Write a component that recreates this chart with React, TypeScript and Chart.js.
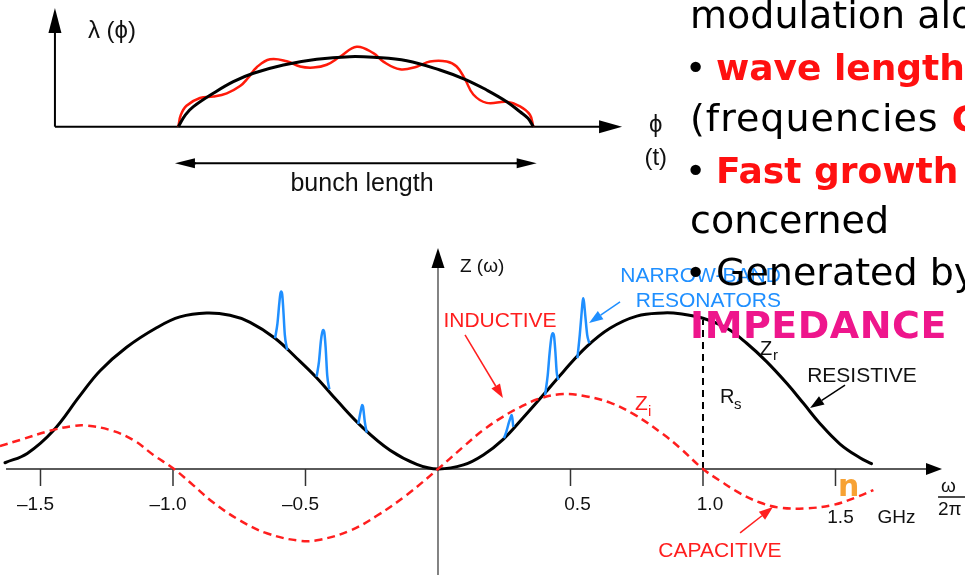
import { useEffect, useRef } from "react";
import { Chart, registerables } from "chart.js";

Chart.register(...registerables);

// ---------- main impedance plot: Z(omega) vs omega/2pi (GHz) ----------
const zrOmega = [-1.634, -1.55, -1.452, -1.351, -1.275, -1.175, -1.062, -0.974, -0.873, -0.785, -0.709, -0.615, -0.533, -0.458, -0.382, -0.282, -0.181, -0.08, 0, 0.096, 0.171, 0.246, 0.322, 0.397, 0.473, 0.561, 0.649, 0.75, 0.85, 0.913, 1.0, 1.09, 1.165, 1.24, 1.316, 1.379, 1.442, 1.517, 1.592, 1.636];
const zrValue = [0.04, 0.1, 0.245, 0.47, 0.63, 0.78, 0.905, 0.975, 1.0, 0.985, 0.94, 0.838, 0.71, 0.585, 0.44, 0.262, 0.12, 0.03, 0, 0.026, 0.09, 0.19, 0.33, 0.474, 0.624, 0.784, 0.902, 0.98, 1.0, 0.995, 0.966, 0.902, 0.806, 0.688, 0.549, 0.421, 0.29, 0.16, 0.072, 0.034];

const ziOmega = [-1.653, -1.577, -1.464, -1.376, -1.326, -1.238, -1.15, -1.074, -0.996, -0.923, -0.848, -0.747, -0.646, -0.521, -0.445, -0.332, -0.231, -0.118, 0, 0.096, 0.171, 0.246, 0.309, 0.385, 0.473, 0.561, 0.649, 0.74, 0.85, 0.913, 1.0, 1.064, 1.14, 1.215, 1.29, 1.391, 1.492, 1.58, 1.643];
const ziValue = [0.147, 0.186, 0.245, 0.276, 0.278, 0.25, 0.186, 0.09, 0, -0.105, -0.215, -0.33, -0.412, -0.46, -0.453, -0.395, -0.3, -0.166, 0, 0.143, 0.25, 0.336, 0.395, 0.452, 0.48, 0.465, 0.425, 0.35, 0.222, 0.135, 0, -0.075, -0.156, -0.215, -0.248, -0.252, -0.23, -0.18, -0.135];

// narrow-band resonators
const res1Omega = [-0.615, -0.606, -0.599, -0.595, -0.592, -0.588, -0.584, -0.578, -0.569];
const res1Value = [0.838, 0.93, 1.06, 1.12, 1.137, 1.12, 1.03, 0.86, 0.763];
const res2Omega = [-0.458, -0.449, -0.442, -0.437, -0.433, -0.429, -0.424, -0.418, -0.41];
const res2Value = [0.592, 0.69, 0.82, 0.875, 0.891, 0.875, 0.78, 0.6, 0.511];
const res3Omega = [-0.301, -0.293, -0.288, -0.286, -0.283, -0.276, -0.269];
const res3Value = [0.288, 0.36, 0.4, 0.41, 0.4, 0.3, 0.233];
const res4Omega = [0.249, 0.258, 0.268, 0.275, 0.278, 0.281, 0.284];
const res4Value = [0.197, 0.24, 0.3, 0.335, 0.346, 0.32, 0.27];
const res5Omega = [0.404, 0.414, 0.421, 0.428, 0.433, 0.438, 0.443, 0.448, 0.454];
const res5Value = [0.474, 0.6, 0.74, 0.845, 0.87, 0.85, 0.75, 0.62, 0.571];
const res6Omega = [0.526, 0.535, 0.541, 0.545, 0.548, 0.551, 0.556, 0.563, 0.571];
const res6Value = [0.71, 0.86, 0.98, 1.06, 1.094, 1.07, 0.98, 0.86, 0.806];

const tickValues = [-1.5, -1.0, -0.5, 0.5, 1.0, 1.5];
const tickLabels = ["\u20131.5", "\u20131.0", "\u20130.5", "0.5", "1.0", "1.5"];
const rsOmega = 1.0;
const rsValue = 0.955;

// ---------- bunch profile: lambda(phi) ----------
const bunchPhi = [-1.0, -0.96, -0.915, -0.803, -0.69, -0.577, -0.408, -0.22, -0.033, 0.099, 0.287, 0.474, 0.625, 0.737, 0.85, 0.925, 0.97, 1.0];
const bunchLambda = [0, 0.17, 0.286, 0.477, 0.643, 0.763, 0.881, 0.963, 1.0, 0.991, 0.943, 0.81, 0.667, 0.524, 0.357, 0.214, 0.12, 0];

const modPhi = [-1.0, -0.986, -0.954, -0.878, -0.803, -0.727, -0.652, -0.606, -0.558, -0.483, -0.389, -0.314, -0.239, -0.164, -0.089, 0.005, 0.099, 0.155, 0.249, 0.343, 0.418, 0.512, 0.568, 0.615, 0.662, 0.737, 0.85, 0.925, 0.981, 1.0];
const modLambda = [0, 0.167, 0.3, 0.41, 0.43, 0.477, 0.58, 0.7, 0.85, 0.963, 0.935, 0.86, 0.845, 0.885, 1.0, 1.143, 1.05, 0.93, 0.82, 0.857, 0.93, 0.93, 0.86, 0.68, 0.46, 0.34, 0.355, 0.29, 0.17, 0];

// ---------- slide text ----------
const slideLines = [
  [{ t: "modulation along the bunch", c: "#000", b: false }],
  [{ t: "\u2022", c: "#000", b: false, bullet: true }, { t: "wave length", c: "#ff1010", b: true }],
  [{ t: "(frequencies ", c: "#000", b: false }, { t: "GHz)", c: "#ff1010", b: true }],
  [{ t: "\u2022", c: "#000", b: false, bullet: true }, { t: "Fast growth", c: "#ff1010", b: true }],
  [{ t: "concerned", c: "#000", b: false }],
  [{ t: "\u2022", c: "#000", b: false, bullet: true }, { t: "Generated by", c: "#000", b: false }],
  [{ t: "IMPEDANCE", c: "#ee168c", b: true }],
];

const pts = (xs: number[], ys: number[]) => xs.map((x, i) => ({ x, y: ys[i] }));

const SANS = "'Liberation Sans', Arial, sans-serif";
const BLUE = "#1f8fff";
const RED = "#ff1e1e";

function text(ctx: CanvasRenderingContext2D, s: string, x: number, y: number, font: string, color: string, align: CanvasTextAlign = "left") {
  ctx.font = font;
  ctx.fillStyle = color;
  ctx.textAlign = align;
  ctx.textBaseline = "alphabetic";
  ctx.fillText(s, x, y);
}

function arrow(ctx: CanvasRenderingContext2D, x1: number, y1: number, x2: number, y2: number, color: string, lw: number, hl: number, hw: number) {
  const a = Math.atan2(y2 - y1, x2 - x1);
  const bx = x2 - hl * Math.cos(a);
  const by = y2 - hl * Math.sin(a);
  ctx.strokeStyle = color;
  ctx.fillStyle = color;
  ctx.lineWidth = lw;
  ctx.setLineDash([]);
  ctx.beginPath();
  ctx.moveTo(x1, y1);
  ctx.lineTo(bx, by);
  ctx.stroke();
  ctx.beginPath();
  ctx.moveTo(x2, y2);
  ctx.lineTo(bx + hw * Math.sin(a), by - hw * Math.cos(a));
  ctx.lineTo(bx - hw * Math.sin(a), by + hw * Math.cos(a));
  ctx.closePath();
  ctx.fill();
}

function line(ctx: CanvasRenderingContext2D, x1: number, y1: number, x2: number, y2: number) {
  ctx.beginPath();
  ctx.moveTo(x1, y1);
  ctx.lineTo(x2, y2);
  ctx.stroke();
}

const decor = {
  id: "decor",
  beforeDatasetsDraw(chart: any) {
    const ctx: CanvasRenderingContext2D = chart.ctx;
    const X = (v: number) => chart.scales.x.getPixelForValue(v);
    const Y = (v: number) => chart.scales.y.getPixelForValue(v);
    const X2 = (v: number) => chart.scales.x2.getPixelForValue(v);
    const Y2 = (v: number) => chart.scales.y2.getPixelForValue(v);
    ctx.save();
    ctx.lineCap = "butt";
    const y0 = Y(0);
    const x0 = X(0);
    ctx.strokeStyle = "#5a5a5a";
    ctx.lineWidth = 2;
    line(ctx, X(-1.63), y0, X(1.902) - 12, y0);
    arrow(ctx, X(1.902) - 14, y0, X(1.902), y0, "#000", 2, 16, 6);
    ctx.strokeStyle = "#5a5a5a";
    ctx.lineWidth = 1.5;
    line(ctx, x0, Y(-0.7), x0, Y(1.417) + 14);
    arrow(ctx, x0, Y(1.417) + 16, x0, Y(1.417), "#000", 1.5, 20, 6.5);
    ctx.strokeStyle = "#333";
    ctx.lineWidth = 1.5;
    tickValues.forEach((v) => line(ctx, X(v), y0, X(v), y0 + 17));
    ctx.strokeStyle = "#000";
    ctx.lineWidth = 2;
    ctx.setLineDash([7, 5]);
    line(ctx, X(rsOmega), y0, X(rsOmega), Y(rsValue));
    ctx.setLineDash([]);
    const by0 = Y2(0);
    ctx.strokeStyle = "#000";
    ctx.lineWidth = 2;
    line(ctx, X2(-1.695), by0, X2(1.5) - 20, by0);
    arrow(ctx, X2(1.5) - 22, by0, X2(1.5), by0, "#000", 2, 23, 6.5);
    line(ctx, X2(-1.695), by0, X2(-1.695), Y2(1.696) + 22);
    arrow(ctx, X2(-1.695), Y2(1.696) + 24, X2(-1.695), Y2(1.696), "#000", 2, 25, 6.5);
    ctx.restore();
  },
  afterDatasetsDraw(chart: any) {
    const ctx: CanvasRenderingContext2D = chart.ctx;
    const X = (v: number) => chart.scales.x.getPixelForValue(v);
    const Y = (v: number) => chart.scales.y.getPixelForValue(v);
    const X2 = (v: number) => chart.scales.x2.getPixelForValue(v);
    const Y2 = (v: number) => chart.scales.y2.getPixelForValue(v);
    ctx.save();
    const y0 = Y(0);
    tickValues.forEach((v, i) => {
      const last = i === tickValues.length - 1;
      const dx = v < 0 ? -5 : last ? 5 : 7;
      text(ctx, tickLabels[i], X(v) + dx, y0 + (last ? 54 : 41), `19px ${SANS}`, "#111", "center");
    });
    text(ctx, "GHz", X(1.5) + 61, y0 + 54, `19px ${SANS}`, "#111", "center");
    const fx = X(1.887);
    text(ctx, "\u03c9", fx + 3, y0 + 23, `19px ${SANS}`, "#111", "left");
    ctx.strokeStyle = "#111";
    ctx.lineWidth = 1.5;
    line(ctx, fx, y0 + 28, fx + 40, y0 + 28);
    text(ctx, "2\u03c0", fx, y0 + 46, `19px ${SANS}`, "#111", "left");
    text(ctx, "Z (\u03c9)", X(0.083), Y(1.263), `19px ${SANS}`, "#111", "left");
    text(ctx, "n", X(1.509), Y(-0.173), `bold 30px 'DejaVu Sans', sans-serif`, "#f7a234", "left");
    text(ctx, "INDUCTIVE", X(0.234), Y(0.91), `21px ${SANS}`, RED, "center");
    arrow(ctx, X(0.102), Y(0.859), X(0.245), Y(0.455), RED, 1.5, 14, 5);
    text(ctx, "NARROW-BAND", X(1.294), Y(1.199), `21px ${SANS}`, BLUE, "right");
    text(ctx, "RESONATORS", X(1.294), Y(1.038), `21px ${SANS}`, BLUE, "right");
    arrow(ctx, X(0.687), Y(1.071), X(0.57), Y(0.936), BLUE, 1.5, 14, 5);
    text(ctx, "Z", X(0.743), Y(0.378), `21px ${SANS}`, RED, "left");
    text(ctx, "i", X(0.743) + 13, Y(0.378) + 6, `15px ${SANS}`, RED, "left");
    text(ctx, "Z", X(1.215), Y(0.731), `20px ${SANS}`, "#111", "left");
    text(ctx, "r", X(1.215) + 13, Y(0.731) + 5, `15px ${SANS}`, "#111", "left");
    text(ctx, "R", X(1.064), Y(0.423), `20px ${SANS}`, "#111", "left");
    text(ctx, "s", X(1.064) + 14, Y(0.423) + 6, `15px ${SANS}`, "#111", "left");
    text(ctx, "RESISTIVE", X(1.6), Y(0.558), `21px ${SANS}`, "#111", "center");
    arrow(ctx, X(1.536), Y(0.538), X(1.404), Y(0.391), "#000", 1.5, 14, 5);
    text(ctx, "CAPACITIVE", X(1.064), Y(-0.564), `21px ${SANS}`, RED, "center");
    arrow(ctx, X(1.14), Y(-0.41), X(1.264), Y(-0.244), RED, 1.5, 14, 5);
    // bunch diagram labels
    text(ctx, "\u03bb (\u03d5)", X2(-1.509), Y2(0) - 89, `24px ${SANS}, 'DejaVu Sans'`, "#111", "left");
    text(ctx, "\u03d5", X2(1.69), Y2(0) + 5, `24px ${SANS}, 'DejaVu Sans'`, "#111", "center");
    text(ctx, "(t)", X2(1.69), Y2(0) + 38, `24px ${SANS}`, "#111", "center");
    arrow(ctx, X2(-0.9), Y2(-0.523), X2(-1.019), Y2(-0.523), "#000", 2, 20, 5);
    arrow(ctx, X2(0.9), Y2(-0.523), X2(1.019), Y2(-0.523), "#000", 2, 20, 5);
    ctx.strokeStyle = "#000";
    ctx.lineWidth = 2;
    line(ctx, X2(-0.92), Y2(-0.523), X2(0.92), Y2(-0.523));
    text(ctx, "bunch length", X2(0.035), Y2(-0.523) + 28, `25px ${SANS}`, "#111", "center");
    ctx.restore();
  },
  afterDraw(chart: any) {
    const ctx: any = chart.ctx;
    ctx.save();
    const baselines = [28, 80, 131, 183, 233, 285, 338];
    slideLines.forEach((segs: any[], i: number) => {
      let x = 690;
      segs.forEach((s: any) => {
        const big = !s.b || s.t === "IMPEDANCE";
        ctx.font = `${s.b ? "bold " : ""}${big ? 38 : 36}px 'DejaVu Sans', sans-serif`;
        ctx.letterSpacing = s.t === "IMPEDANCE" ? "0.5px" : s.t.startsWith("(freq") ? "1px" : "0px";
        ctx.fillStyle = s.c;
        ctx.textAlign = "left";
        ctx.textBaseline = "alphabetic";
        if (s.bullet) {
          ctx.letterSpacing = "0px";
          ctx.font = `36px 'DejaVu Sans', sans-serif`;
          ctx.fillText(s.t, 685, baselines[i]);
          x = 716;
        } else {
          ctx.fillText(s.t, x, baselines[i]);
          x += ctx.measureText(s.t).width;
        }
      });
    });
    ctx.restore();
  },
};

export default function App() {
  const ref = useRef<HTMLCanvasElement>(null);
  useEffect(() => {
    const resDs = (xs: number[], ys: number[]) => ({
      data: pts(xs, ys),
      borderColor: BLUE,
      borderWidth: 2.5,
      pointRadius: 0,
      cubicInterpolationMode: "monotone" as const,
      fill: false,
    });
    const smooth = { pointRadius: 0, tension: 0.4, fill: false };
    const chart = new Chart(ref.current as HTMLCanvasElement, {
      type: "line",
      data: {
        datasets: [
          { data: pts(ziOmega, ziValue), borderColor: RED, borderWidth: 2.5, borderDash: [8, 5], ...smooth },
          resDs(res1Omega, res1Value),
          resDs(res2Omega, res2Value),
          resDs(res3Omega, res3Value),
          resDs(res4Omega, res4Value),
          resDs(res5Omega, res5Value),
          resDs(res6Omega, res6Value),
          { data: pts(zrOmega, zrValue), borderColor: "#000", borderWidth: 3, borderCapStyle: "round", ...smooth },
          { data: pts(bunchPhi, bunchLambda), xAxisID: "x2", yAxisID: "y2", borderColor: "#000", borderWidth: 3, ...smooth },
          { data: pts(modPhi, modLambda), xAxisID: "x2", yAxisID: "y2", borderColor: "#ff1a0a", borderWidth: 2.5, ...smooth },
        ] as any,
      },
      options: {
        animation: false,
        responsive: true,
        maintainAspectRatio: false,
        events: [],
        layout: { padding: 0 },
        plugins: { legend: { display: false }, tooltip: { enabled: false } },
        scales: {
          x: { type: "linear", display: false, min: -1.6528, max: 1.9887 },
          y: { type: "linear", display: false, min: -0.6795, max: 3.006 },
          x2: { type: "linear", display: false, min: -2.0045, max: 3.432 },
          y2: { type: "linear", display: false, min: -6.404, max: 1.81 },
        },
      },
      plugins: [decor],
    });
    return () => chart.destroy();
  }, []);
  return (
    <div style={{ position: "fixed", left: 0, top: 0, width: 965, height: 575, overflow: "hidden", background: "#fff" }}>
      <canvas ref={ref} />
    </div>
  );
}
